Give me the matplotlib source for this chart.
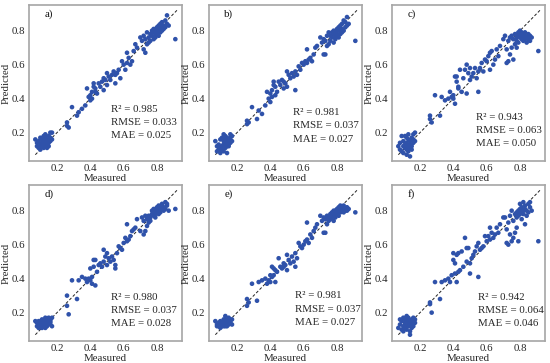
import matplotlib
matplotlib.use('Agg')
import matplotlib.pyplot as plt

plt.rcParams['font.family'] = ['Liberation Serif', 'DejaVu Serif']
plt.rcParams['font.size'] = 7.8

# measured values (shared by all six models)
measured = [
    0.07, 0.08, 0.08, 0.09, 0.09, 0.10, 0.10, 0.10, 0.11, 0.11, 0.11, 0.12, 0.12, 0.12, 0.12, 0.13,
    0.13, 0.13, 0.13, 0.14, 0.14, 0.14, 0.14, 0.15, 0.15, 0.15, 0.16, 0.16, 0.16, 0.17, 0.17, 0.12,
    0.26, 0.26, 0.27, 0.29, 0.32, 0.33, 0.35, 0.37,
    0.38, 0.39, 0.40, 0.40, 0.41, 0.41, 0.42, 0.42, 0.43, 0.43, 0.44, 0.45, 0.46, 0.47, 0.48, 0.48,
    0.49, 0.50, 0.50,
    0.51, 0.52, 0.53, 0.54, 0.55, 0.55, 0.56, 0.57, 0.58, 0.59, 0.60, 0.61, 0.62, 0.62, 0.63, 0.64,
    0.65, 0.66,
    0.67, 0.68, 0.70, 0.71, 0.72, 0.72, 0.73, 0.73, 0.74, 0.74, 0.75, 0.75,
    0.76, 0.76, 0.77, 0.77, 0.78, 0.78, 0.78, 0.79, 0.79, 0.79, 0.80, 0.80, 0.80, 0.81, 0.81, 0.81,
    0.82, 0.82, 0.82, 0.83, 0.83, 0.83, 0.84, 0.84, 0.85, 0.85, 0.86, 0.86, 0.87,
    0.91,
]

pred_a = [
    0.16, 0.12, 0.14, 0.11, 0.15, 0.13, 0.17, 0.10, 0.14, 0.16, 0.12, 0.18, 0.13, 0.15, 0.11, 0.14,
    0.17, 0.12, 0.19, 0.13, 0.15, 0.16, 0.11, 0.14, 0.18, 0.12, 0.20, 0.15, 0.17, 0.20, 0.16, 0.14,
    0.26, 0.24, 0.23, 0.35, 0.30, 0.32, 0.34, 0.36,
    0.46, 0.41, 0.39, 0.42, 0.40, 0.44, 0.47, 0.49, 0.44, 0.46, 0.43, 0.49, 0.47, 0.50, 0.45, 0.52,
    0.51, 0.48, 0.55,
    0.53, 0.51, 0.54, 0.56, 0.49, 0.54, 0.55, 0.57, 0.52, 0.62, 0.60, 0.57, 0.61, 0.67, 0.64, 0.60,
    0.62, 0.68,
    0.72, 0.70, 0.76, 0.74, 0.69, 0.77, 0.67, 0.75, 0.72, 0.79, 0.76, 0.73,
    0.78, 0.74, 0.77, 0.80, 0.75, 0.79, 0.81, 0.77, 0.80, 0.76, 0.82, 0.78, 0.79, 0.80, 0.83, 0.77,
    0.81, 0.84, 0.79, 0.82, 0.80, 0.85, 0.81, 0.83, 0.82, 0.86, 0.84, 0.89, 0.83,
    0.75,
]

pred_b = [
    0.15, 0.09, 0.12, 0.10, 0.13, 0.11, 0.16, 0.08, 0.12, 0.17, 0.10, 0.19, 0.13, 0.15, 0.09, 0.14,
    0.16, 0.11, 0.18, 0.12, 0.15, 0.17, 0.08, 0.13, 0.16, 0.12, 0.19, 0.14, 0.17, 0.18, 0.15, 0.13,
    0.27, 0.25, 0.26, 0.35, 0.28, 0.33, 0.31, 0.36,
    0.44, 0.40, 0.38, 0.43, 0.41, 0.45, 0.48, 0.50, 0.42, 0.47, 0.44, 0.50, 0.48, 0.51, 0.46, 0.50,
    0.49, 0.47, 0.56,
    0.54, 0.52, 0.55, 0.53, 0.45, 0.56, 0.54, 0.59, 0.57, 0.61, 0.60, 0.62, 0.61, 0.69, 0.63, 0.64,
    0.62, 0.66,
    0.70, 0.71, 0.76, 0.73, 0.66, 0.75, 0.66, 0.74, 0.71, 0.77, 0.79, 0.72,
    0.77, 0.74, 0.76, 0.79, 0.73, 0.78, 0.80, 0.76, 0.79, 0.75, 0.81, 0.77, 0.78, 0.80, 0.82, 0.76,
    0.80, 0.83, 0.78, 0.81, 0.79, 0.84, 0.80, 0.86, 0.82, 0.85, 0.83, 0.88, 0.84,
    0.74,
]

pred_c = [
    0.12, 0.10, 0.14, 0.09, 0.18, 0.12, 0.15, 0.08, 0.13, 0.18, 0.11, 0.17, 0.10, 0.14, 0.07, 0.12,
    0.16, 0.09, 0.19, 0.11, 0.15, 0.13, 0.06, 0.10, 0.17, 0.12, 0.19, 0.14, 0.16, 0.20, 0.15, 0.11,
    0.28, 0.30, 0.26, 0.42, 0.30, 0.41, 0.39, 0.40,
    0.44, 0.41, 0.40, 0.42, 0.37, 0.53, 0.50, 0.53, 0.47, 0.46, 0.57, 0.44, 0.52, 0.57, 0.43, 0.60,
    0.55, 0.58, 0.51,
    0.53, 0.55, 0.58, 0.52, 0.44, 0.56, 0.58, 0.61, 0.56, 0.63, 0.62, 0.65, 0.67, 0.57, 0.68, 0.60,
    0.63, 0.69,
    0.65, 0.71, 0.75, 0.77, 0.61, 0.69, 0.62, 0.74, 0.76, 0.66, 0.70, 0.77,
    0.75, 0.63, 0.72, 0.78, 0.70, 0.76, 0.74, 0.77, 0.79, 0.73, 0.78, 0.76, 0.80, 0.77, 0.79, 0.75,
    0.76, 0.78, 0.74, 0.77, 0.75, 0.79, 0.76, 0.73, 0.78, 0.75, 0.77, 0.74, 0.76,
    0.68,
]

pred_d = [
    0.15, 0.12, 0.14, 0.11, 0.15, 0.13, 0.14, 0.12, 0.13, 0.16, 0.11, 0.15, 0.12, 0.14, 0.12, 0.13,
    0.16, 0.11, 0.17, 0.14, 0.13, 0.15, 0.12, 0.14, 0.17, 0.13, 0.16, 0.14, 0.15, 0.17, 0.12, 0.13,
    0.30, 0.24, 0.19, 0.39, 0.28, 0.39, 0.41, 0.40,
    0.38, 0.40, 0.39, 0.46, 0.37, 0.41, 0.51, 0.47, 0.36, 0.51, 0.44, 0.48, 0.49, 0.47, 0.50, 0.57,
    0.53, 0.48, 0.55,
    0.52, 0.50, 0.53, 0.51, 0.46, 0.48, 0.55, 0.59, 0.58, 0.57, 0.61, 0.64, 0.62, 0.72, 0.63, 0.65,
    0.68, 0.69,
    0.70, 0.75, 0.68, 0.76, 0.66, 0.74, 0.68, 0.77, 0.71, 0.75, 0.73, 0.77,
    0.76, 0.74, 0.78, 0.80, 0.77, 0.79, 0.81, 0.78, 0.80, 0.76, 0.82, 0.79, 0.80, 0.81, 0.83, 0.78,
    0.80, 0.82, 0.79, 0.81, 0.84, 0.83, 0.80, 0.82, 0.81, 0.85, 0.83, 0.84, 0.80,
    0.81,
]

pred_e = [
    0.15, 0.12, 0.13, 0.12, 0.14, 0.13, 0.15, 0.11, 0.13, 0.14, 0.12, 0.16, 0.13, 0.15, 0.12, 0.14,
    0.16, 0.12, 0.18, 0.13, 0.14, 0.15, 0.12, 0.14, 0.17, 0.13, 0.16, 0.14, 0.15, 0.16, 0.13, 0.14,
    0.28, 0.24, 0.26, 0.37, 0.27, 0.38, 0.39, 0.40,
    0.37, 0.39, 0.38, 0.42, 0.47, 0.41, 0.46, 0.42, 0.38, 0.45, 0.44, 0.52, 0.47, 0.46, 0.49, 0.47,
    0.48, 0.45, 0.54,
    0.51, 0.49, 0.53, 0.50, 0.47, 0.55, 0.52, 0.61, 0.59, 0.58, 0.60, 0.62, 0.63, 0.73, 0.61, 0.66,
    0.64, 0.68,
    0.70, 0.72, 0.77, 0.74, 0.67, 0.76, 0.67, 0.75, 0.72, 0.77, 0.74, 0.76,
    0.78, 0.75, 0.76, 0.79, 0.74, 0.78, 0.80, 0.77, 0.80, 0.76, 0.81, 0.78, 0.79, 0.80, 0.82, 0.77,
    0.80, 0.83, 0.79, 0.81, 0.80, 0.82, 0.79, 0.83, 0.81, 0.80, 0.82, 0.80, 0.81,
    0.79,
]

pred_f = [
    0.11, 0.16, 0.13, 0.10, 0.15, 0.12, 0.17, 0.09, 0.14, 0.16, 0.11, 0.18, 0.13, 0.15, 0.10, 0.14,
    0.17, 0.12, 0.16, 0.07, 0.15, 0.13, 0.09, 0.14, 0.16, 0.11, 0.17, 0.12, 0.15, 0.16, 0.14, 0.13,
    0.25, 0.26, 0.20, 0.38, 0.28, 0.38, 0.39, 0.40,
    0.38, 0.42, 0.51, 0.55, 0.49, 0.43, 0.54, 0.38, 0.44, 0.55, 0.45, 0.56, 0.47, 0.64, 0.58, 0.50,
    0.58, 0.43, 0.49,
    0.52, 0.54, 0.56, 0.59, 0.41, 0.61, 0.57, 0.58, 0.59, 0.65, 0.62, 0.65, 0.70, 0.63, 0.67, 0.64,
    0.66, 0.70,
    0.67, 0.72, 0.76, 0.76, 0.61, 0.69, 0.60, 0.73, 0.66, 0.77, 0.62, 0.80,
    0.64, 0.74, 0.67, 0.78, 0.70, 0.79, 0.76, 0.80, 0.62, 0.77, 0.81, 0.78, 0.84, 0.79, 0.82, 0.75,
    0.80, 0.85, 0.78, 0.81, 0.72, 0.83, 0.80, 0.77, 0.84, 0.79, 0.82, 0.85, 0.80,
    0.62,
]

panel_labels = ['a)', 'b)', 'c)', 'd)', 'e)', 'f)']
r2 = ['0.985', '0.981', '0.943', '0.980', '0.981', '0.942']
rmse = ['0.033', '0.037', '0.063', '0.037', '0.037', '0.064']
mae = ['0.025', '0.027', '0.050', '0.028', '0.027', '0.046']
predictions = [pred_a, pred_b, pred_c, pred_d, pred_e, pred_f]

# layout in pixels of the 550x363 figure
col_left = [29, 209, 392]
row_top = [5, 185]
ax_w, ax_h = 153, 156
text_pos = [(0.536, 0.333), (0.552, 0.31), (0.552, 0.28),
            (0.536, 0.28), (0.562, 0.29), (0.56, 0.28)]

fig = plt.figure(figsize=(5.5, 3.63), dpi=100)
W, H = 550, 363
spine_col = '#a6a6a6'
txt_col = '#262626'

for i in range(6):
    r, c = divmod(i, 3)
    left = col_left[c] / W
    bottom = 1 - (row_top[r] + ax_h) / H
    ax = fig.add_axes([left, bottom, ax_w / W, ax_h / H])

    ax.plot([0.07, 0.92], [0.07, 0.92], color='#222222', lw=0.7, ls=(0, (3, 2)), zorder=1)
    ax.scatter(measured, predictions[i], s=11, color='#2f52aa', edgecolors='none', zorder=2)

    ax.set_xlim(0.032, 0.95)
    ax.set_ylim(0.033, 0.951)
    ax.set_xticks([0.2, 0.4, 0.6, 0.8])
    ax.set_yticks([0.2, 0.4, 0.6, 0.8])
    ax.tick_params(length=0, pad=2.5, labelsize=7.8, colors=txt_col)
    for sp in ax.spines.values():
        sp.set_color(spine_col)
        sp.set_linewidth(1.2)

    ax.set_xlabel('Measured', fontsize=7.8, labelpad=0.3, color=txt_col)
    ax.set_ylabel('Predicted', fontsize=7.8, labelpad=0.8, color=txt_col)

    ax.text(0.1, 0.94, panel_labels[i], transform=ax.transAxes, fontsize=7.8,
            ha='left', va='center', color='#111111')
    tx, ty = text_pos[i]
    ax.text(tx, ty, 'R² = ' + r2[i], transform=ax.transAxes, fontsize=7.8,
            ha='left', va='center', color=txt_col)
    ax.text(tx, ty - 0.085, 'RMSE = ' + rmse[i], transform=ax.transAxes, fontsize=7.8,
            ha='left', va='center', color=txt_col)
    ax.text(tx, ty - 0.17, 'MAE = ' + mae[i], transform=ax.transAxes, fontsize=7.8,
            ha='left', va='center', color=txt_col)

fig.savefig('out.png', dpi=100)
